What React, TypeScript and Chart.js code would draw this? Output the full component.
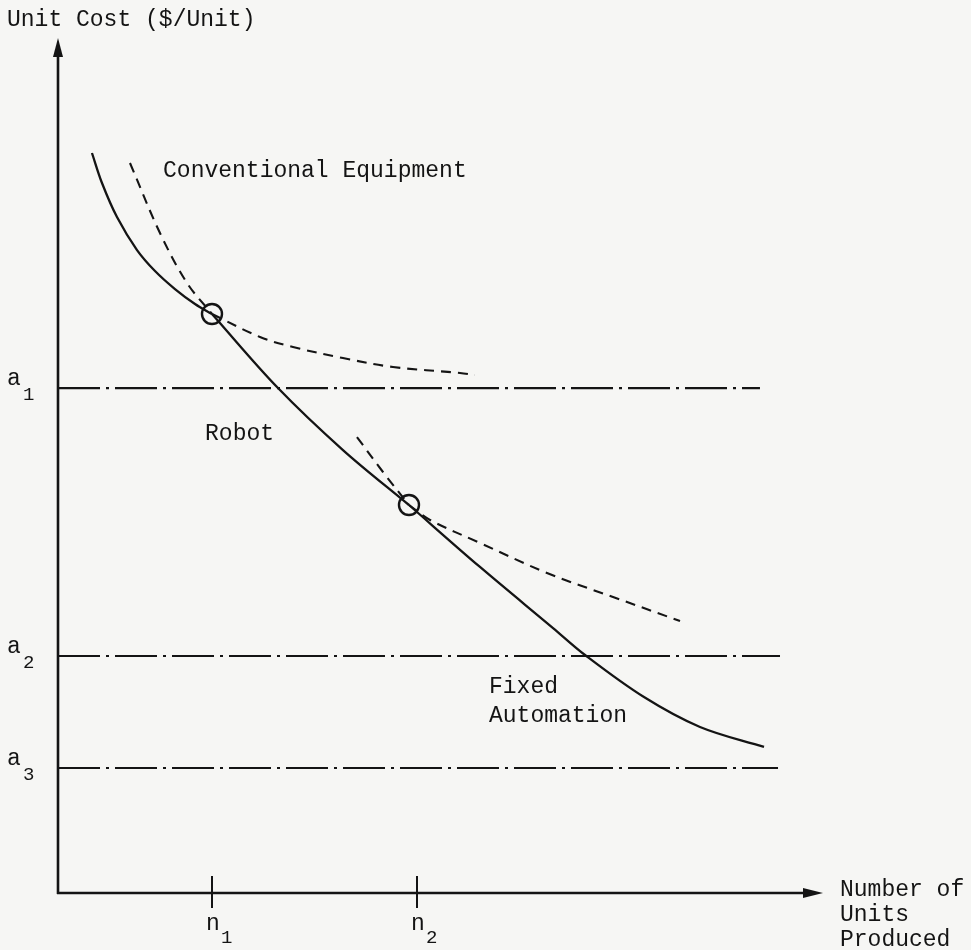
import React, { useEffect, useRef } from "react";
import { Chart, registerables } from "chart.js";

Chart.register(...registerables);

// ---- Data (units: x = production volume 0..100, y = unit cost 0..100) ----
const conventionalSolidX = [4.44, 5.75, 7.71, 10.33, 12.68, 15.29, 17.91, 20.13];
const conventionalSolidY = [86.55, 83.04, 79.06, 75.2, 72.75, 70.64, 68.89, 67.72];
const conventionalDashX = [20.13, 26.41, 30.72, 37.25, 43.79, 52.55, 54.5];
const conventionalDashY = [67.72, 65.03, 63.86, 62.57, 61.52, 60.82, 60.58];

const robotUpperDashX = [9.41, 13.33, 16.86, 20.13];
const robotUpperDashY = [85.38, 77.19, 71.35, 67.72];
const robotSolidX = [20.13, 28.63, 37.25, 45.88];
const robotSolidY = [67.72, 59.18, 51.81, 45.38];
const robotLowerDashX = [45.88, 48.63, 55.16, 63.92, 72.55, 81.31];
const robotLowerDashY = [45.38, 43.63, 40.94, 37.43, 34.62, 31.81];

const fixedUpperDashX = [39.08, 42.48, 45.88];
const fixedUpperDashY = [53.33, 49.24, 45.38];
const fixedSolidX = [45.88, 55.16, 64.71, 68.89, 76.6, 83.92, 92.29];
const fixedSolidY = [45.38, 38.13, 30.99, 27.84, 22.92, 19.42, 17.08];

const breakEvenX = [20.13, 45.88];
const breakEvenY = [67.72, 45.38];

const aLevels = [59.06, 27.72, 14.62];
const aLineEnds = [91.76, 94.38, 94.12];
const aSubs = ["1", "2", "3"];

const nTicks = [20.13, 46.93];
const nSubs = ["1", "2"];

const yTitle = "Unit Cost ($/Unit)";
const xTitleLines = ["Number of", "Units", "Produced"];
const curveLabels = ["Conventional Equipment", "Robot", "Fixed", "Automation"];

// ---- helpers ----
const zip = (xs: number[], ys: number[]) => xs.map((x, i) => ({ x, y: ys[i] }));

const INK = "#141414";
const FONT = "'Liberation Mono', 'DejaVu Sans Mono', monospace";

const solid = (xs: number[], ys: number[]) => ({
  data: zip(xs, ys),
  showLine: true,
  borderColor: INK,
  borderWidth: 2.3,
  pointRadius: 0,
  tension: 0.35,
  clip: false as const,
});
const dashed = (xs: number[], ys: number[]) => ({
  ...solid(xs, ys),
  borderWidth: 2.1,
  borderDash: [10, 7],
});

const figurePlugin = {
  id: "figure",
  beforeDraw(chart: any) {
    const { ctx, width, height } = chart;
    ctx.save();
    ctx.fillStyle = "#f6f6f4";
    ctx.fillRect(0, 0, width, height);
    ctx.restore();
  },
  afterDatasetsDraw(chart: any) {
    const { ctx } = chart;
    const xs = chart.scales.x;
    const ys = chart.scales.y;
    const x0 = xs.getPixelForValue(0);
    const y0 = ys.getPixelForValue(0);
    const xEnd = xs.getPixelForValue(100);
    const yEnd = ys.getPixelForValue(100);
    ctx.save();
    ctx.strokeStyle = INK;
    ctx.fillStyle = INK;
    ctx.lineWidth = 2.6;
    // y axis
    ctx.beginPath();
    ctx.moveTo(x0, y0 + 1);
    ctx.lineTo(x0, yEnd + 12);
    ctx.stroke();
    ctx.beginPath();
    ctx.moveTo(x0, yEnd);
    ctx.lineTo(x0 - 5, yEnd + 19);
    ctx.lineTo(x0 + 5, yEnd + 19);
    ctx.closePath();
    ctx.fill();
    // x axis
    ctx.beginPath();
    ctx.moveTo(x0 - 1, y0);
    ctx.lineTo(xEnd - 12, y0);
    ctx.stroke();
    ctx.beginPath();
    ctx.moveTo(xEnd, y0);
    ctx.lineTo(xEnd - 20, y0 - 5);
    ctx.lineTo(xEnd - 20, y0 + 5);
    ctx.closePath();
    ctx.fill();

    // x ticks
    ctx.lineWidth = 2;
    ctx.textBaseline = "alphabetic";
    ctx.textAlign = "left";
    nTicks.forEach((v, i) => {
      const px = xs.getPixelForValue(v);
      ctx.beginPath();
      ctx.moveTo(px, y0 - 17);
      ctx.lineTo(px, y0 + 15);
      ctx.stroke();
      ctx.font = `23px ${FONT}`;
      ctx.fillText("n", px - 6, y0 + 37);
      ctx.font = `19px ${FONT}`;
      ctx.fillText(nSubs[i], px + 9, y0 + 50);
    });

    // a labels
    aLevels.forEach((v, i) => {
      const py = ys.getPixelForValue(v);
      ctx.font = `23px ${FONT}`;
      ctx.fillText("a", 7, py - 3);
      ctx.font = `19px ${FONT}`;
      ctx.fillText(aSubs[i], 23, py + 12);
    });

    // titles
    ctx.font = `23px ${FONT}`;
    ctx.fillText(yTitle, 7, 26);
    xTitleLines.forEach((t, i) => {
      ctx.fillText(t, xEnd + 17, y0 + 3 + i * 25);
    });

    // curve labels
    const labelPos = [
      [13.73, 83.74],
      [19.22, 52.98],
      [56.34, 23.39],
      [56.34, 20.0],
    ];
    curveLabels.forEach((t, i) => {
      ctx.fillText(t, xs.getPixelForValue(labelPos[i][0]), ys.getPixelForValue(labelPos[i][1]));
    });
    ctx.restore();
  },
};

export default function App() {
  const ref = useRef<HTMLCanvasElement>(null);
  useEffect(() => {
    document.body.style.margin = "0";
    const canvas = ref.current;
    if (!canvas) return;
    const dashDot = [42, 6, 3, 6];
    const aDatasets = aLevels.map((v, i) => ({
      data: [
        { x: 0, y: v },
        { x: aLineEnds[i], y: v },
      ],
      showLine: true,
      borderColor: INK,
      borderWidth: 2.2,
      borderDash: dashDot,
      pointRadius: 0,
      clip: false as const,
    }));
    const chart = new Chart(canvas, {
      type: "scatter",
      data: {
        datasets: [
          ...aDatasets,
          solid(conventionalSolidX, conventionalSolidY),
          dashed(conventionalDashX, conventionalDashY),
          dashed(robotUpperDashX, robotUpperDashY),
          solid(robotSolidX, robotSolidY),
          dashed(robotLowerDashX, robotLowerDashY),
          dashed(fixedUpperDashX, fixedUpperDashY),
          solid(fixedSolidX, fixedSolidY),
          {
            data: zip(breakEvenX, breakEvenY),
            showLine: false,
            pointRadius: 10,
            pointBorderWidth: 2.4,
            pointBorderColor: INK,
            pointBackgroundColor: "rgba(0,0,0,0)",
            clip: false as const,
          },
        ] as any,
      },
      options: {
        animation: false,
        responsive: false,
        maintainAspectRatio: false,
        events: [],
        layout: { padding: { left: 58, right: 148, top: 38, bottom: 57 } },
        plugins: { legend: { display: false }, tooltip: { enabled: false }, title: { display: false } },
        scales: {
          x: { type: "linear", min: 0, max: 100, display: false },
          y: { type: "linear", min: 0, max: 100, display: false },
        },
      },
      plugins: [figurePlugin],
    });
    return () => chart.destroy();
  }, []);
  return (
    <div style={{ position: "absolute", left: 0, top: 0, width: 971, height: 950 }}>
      <canvas ref={ref} width={971} height={950} style={{ width: 971, height: 950, display: "block" }} />
    </div>
  );
}
